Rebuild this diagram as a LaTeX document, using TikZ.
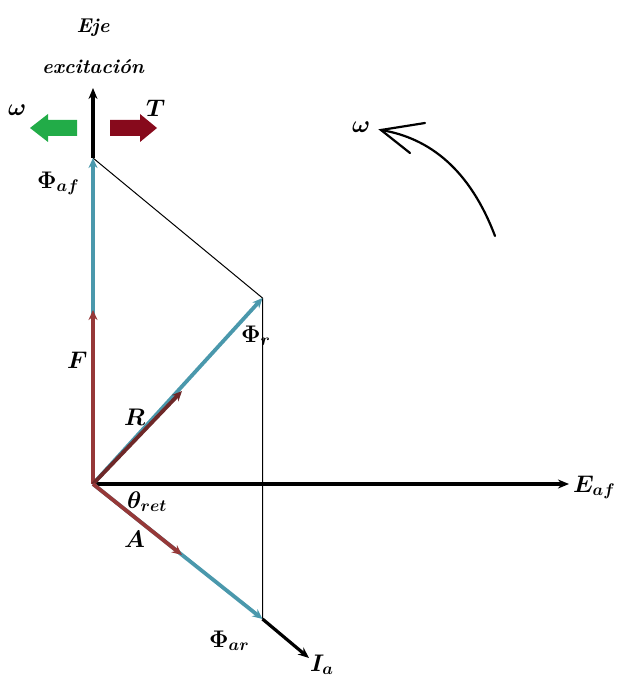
\RequirePackage{fix-cm}
\documentclass[tikz,border=0pt]{standalone}
\usepackage{amsmath,bm}
\usetikzlibrary{arrows.meta}
\definecolor{fblue}{RGB}{74,152,172}
\definecolor{fred}{RGB}{150,56,56}
\definecolor{rdark}{RGB}{110,40,40}
\definecolor{bgreen}{RGB}{34,172,72}
\definecolor{bred}{RGB}{135,10,28}
\tikzset{
  vec/.style={line width=3.8pt,-{Stealth[length=10pt,width=9pt]}},
  axis/.style={line width=3.2pt,-{Stealth[length=11pt,width=9pt]}},
  thin/.style={line width=1pt},
  lbl/.style={inner sep=0pt,anchor=base west,font=\fontsize{24}{26}\selectfont},
  tlbl/.style={inner sep=0pt,anchor=base,font=\fontsize{20}{22}\selectfont\bfseries\itshape}
}
\begin{document}
\begin{tikzpicture}[x=1pt,y=-1pt]
\useasboundingbox (0,0) rectangle (616,679);
\coordinate (O) at (93,484);
\coordinate (Vtop) at (93,88);
\coordinate (Phiaf) at (93,158);
\coordinate (Ftip) at (93,310);
\coordinate (Rtip) at (182,391);
\coordinate (Phir) at (262.5,298);
\coordinate (Atip) at (182,555);
\coordinate (Phiar) at (262.5,619);
\coordinate (Ia) at (309,658);
\coordinate (Eaf) at (569,484);
% axes
\draw[axis] (O) -- (Eaf);
\draw[axis] (Phiaf) -- (Vtop);
\draw[axis] (Phiar) -- (Ia);
% thin projection lines
\draw[thin] (Phiaf) -- (Phir) -- (Phiar);
% blue vectors
\draw[vec,fblue] (O) -- (Phiaf);
\draw[vec,fblue] (O) -- (Phir);
\draw[vec,fblue] (O) -- (Phiar);
% red vectors
\draw[vec,fred] (O) -- (Ftip);
\draw[vec,rdark] (O) -- (Rtip);
\draw[vec,fred] (O) -- (Atip);
% block arrows
\fill[bgreen] (30,128) -- (48,114) -- (48,120) -- (77,120) -- (77,136) -- (48,136) -- (48,142) -- cycle;
\fill[bred] (157,128) -- (140,114) -- (140,120) -- (110,120) -- (110,136) -- (140,136) -- (140,142) -- cycle;
% curved omega arrow
\coordinate (Ctip) at (381,130);
\coordinate (Cstart) at (495,236);
\coordinate (Cb1) at (425,123);
\coordinate (Cb2) at (410,153);
\draw[line width=2.2pt,line cap=round] (Cstart) .. controls (470,170) and (430,138) .. (Ctip);
\draw[line width=2.2pt,line cap=round] (Cb1) -- (Ctip) -- (Cb2);
% labels
\node[tlbl] (eje) at (93,33) {Eje};
\node[tlbl] (exc) at (93,74) {excitación};
\node[lbl] (lw1) at (8,116) {$\bm{\omega}$};
\node[lbl] (lT) at (146,117) {$\bm{T}$};
\node[lbl] (lw2) at (352,133) {$\bm{\omega}$};
\node[lbl] (lPaf) at (37,188) {$\bm{\Phi_{af}}$};
\node[lbl] (lF) at (67,368) {$\bm{F}$};
\node[lbl] (lR) at (124,425) {$\bm{R}$};
\node[lbl] (lPr) at (241,342) {$\bm{\Phi_r}$};
\node[lbl] (lth) at (127,508) {$\bm{\theta_{ret}}$};
\node[lbl] (lA) at (124,547) {$\bm{A}$};
\node[lbl] (lPar) at (209,647) {$\bm{\Phi_{ar}}$};
\node[lbl] (lIa) at (310,671) {$\bm{I_a}$};
\node[lbl] (lEaf) at (573,492) {$\bm{E_{af}}$};
\end{tikzpicture}
\end{document}
